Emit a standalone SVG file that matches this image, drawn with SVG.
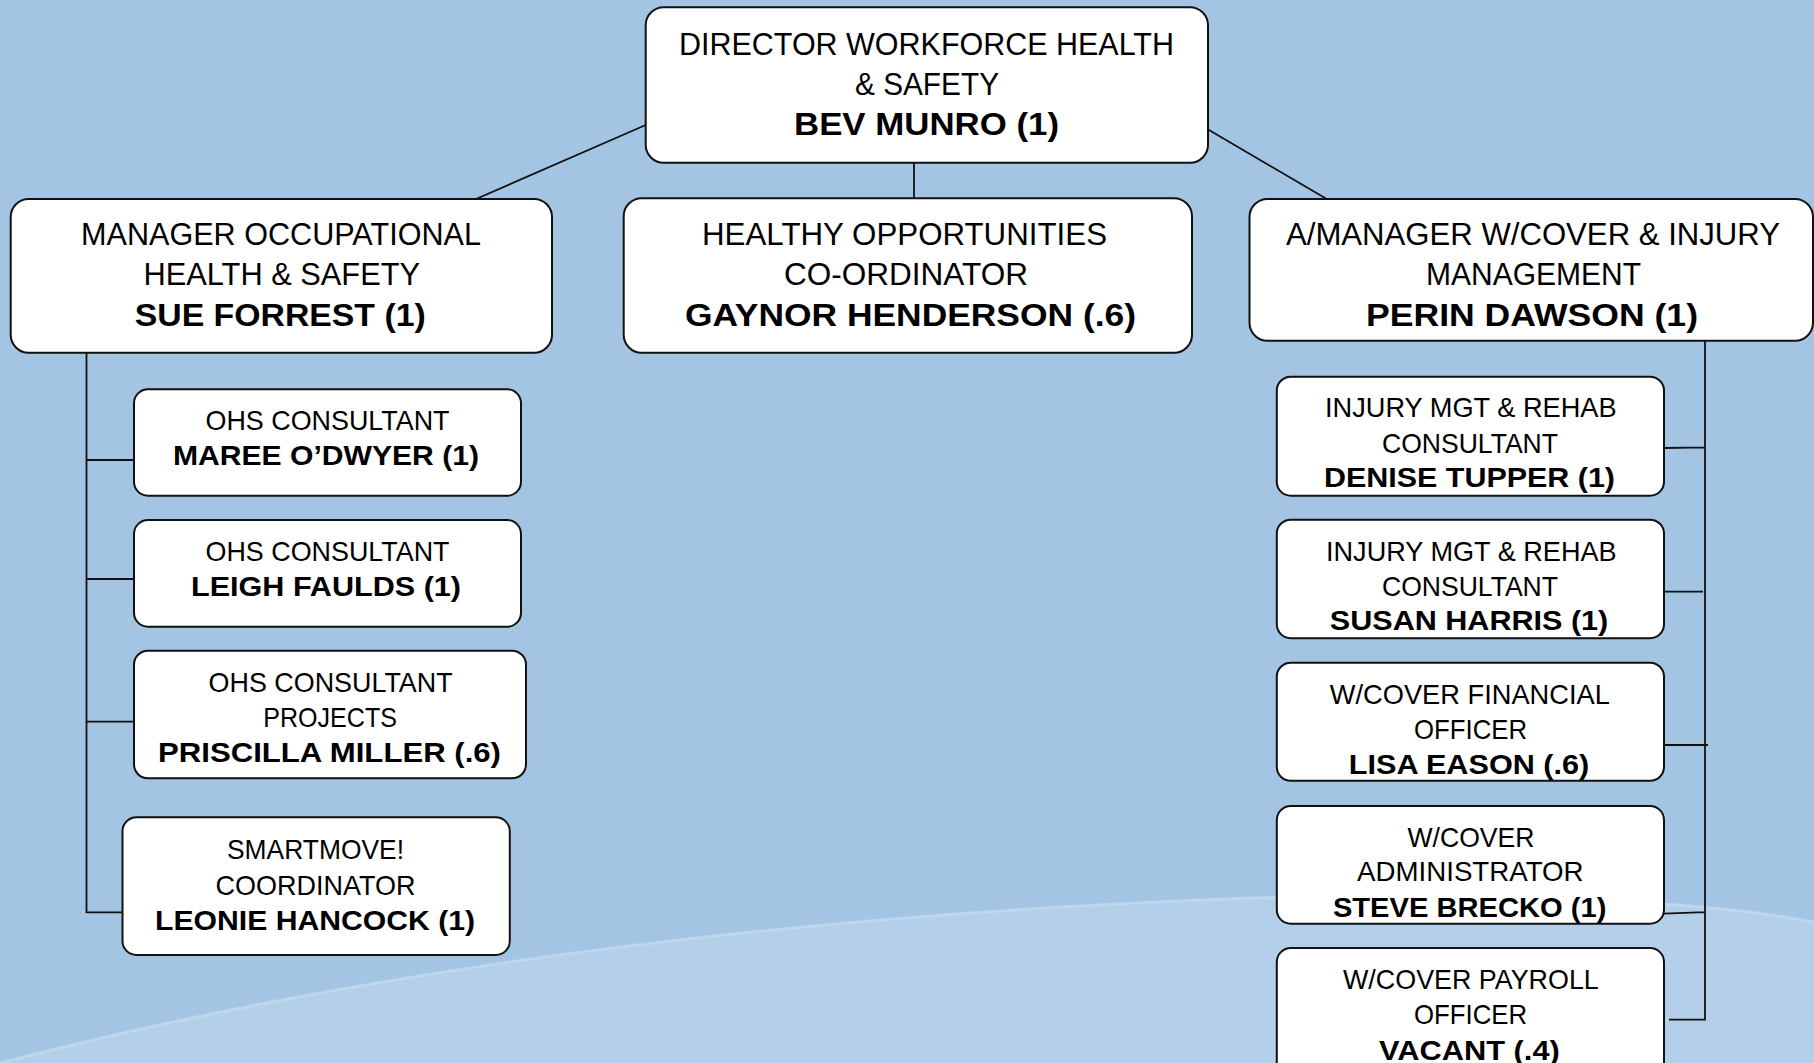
<svg xmlns="http://www.w3.org/2000/svg" width="1814" height="1063" viewBox="0 0 1814 1063">
<style>
.box{fill:#fff;stroke:#111;stroke-width:2}
.t{font-family:"Liberation Sans",Arial,sans-serif;font-size:31px;fill:#000}
.s{font-size:28px}
.b{font-weight:bold}
.conn{stroke:#111;stroke-width:1.8;fill:none}
</style>
<rect width="1814" height="1063" fill="#a3c5e3"/>
<path d="M0,1063 C300,985 700,918 1250,898 C1500,892 1700,900 1814,922 L1814,1063 Z" fill="#b4cfe9"/>
<path d="M0,1063 C300,985 700,918 1250,898 C1500,892 1700,900 1814,922" fill="none" stroke="#c4dbf0" stroke-width="3" opacity="0.7"/>
<g id="connectors">
<path class="conn" d="M645.7,125 L476,199"/>
<path class="conn" d="M914,162.7 L914,198.3"/>
<path class="conn" d="M1207.7,129.3 L1326.7,199"/>
<path class="conn" d="M86.5,352.7 L86.5,912.3 L122.5,912.3 M86.5,460 L134,460 M86.5,579 L138.5,579 M86.5,721.7 L138.5,721.7"/>
<path class="conn" d="M1705,340.7 L1705,1019.6 L1669,1019.6 M1664,448 L1705,447.3 M1664,591.6 L1703,591.6 M1662,745 L1708,745 M1664,913.6 L1705,912.2"/>
</g>
<g id="director">
<rect class="box" x="645.7" y="7.3" width="562.3" height="155.4" rx="18"/>
<text class="t" x="679" y="55" textLength="495" lengthAdjust="spacingAndGlyphs">DIRECTOR WORKFORCE HEALTH</text>
<text class="t" x="855" y="95" textLength="144" lengthAdjust="spacingAndGlyphs">&amp; SAFETY</text>
<text class="t b" x="794" y="135" textLength="265" lengthAdjust="spacingAndGlyphs">BEV MUNRO (1)</text>
</g>
<g id="manager-ohs">
<rect class="box" x="10.7" y="199" width="541.3" height="153.7" rx="18"/>
<text class="t" x="81" y="245" textLength="400" lengthAdjust="spacingAndGlyphs">MANAGER OCCUPATIONAL</text>
<text class="t" x="143.5" y="285" textLength="276.5" lengthAdjust="spacingAndGlyphs">HEALTH &amp; SAFETY</text>
<text class="t b" x="134.7" y="325.7" textLength="291" lengthAdjust="spacingAndGlyphs">SUE FORREST (1)</text>
</g>
<g id="healthy-opportunities">
<rect class="box" x="623.7" y="198.3" width="568.3" height="154.4" rx="18"/>
<text class="t" x="702" y="245" textLength="405" lengthAdjust="spacingAndGlyphs">HEALTHY OPPORTUNITIES</text>
<text class="t" x="784" y="285" textLength="244" lengthAdjust="spacingAndGlyphs">CO-ORDINATOR</text>
<text class="t b" x="685" y="325.7" textLength="451" lengthAdjust="spacingAndGlyphs">GAYNOR HENDERSON (.6)</text>
</g>
<g id="manager-wcover">
<rect class="box" x="1249.5" y="199" width="563.5" height="141.7" rx="18"/>
<text class="t" x="1286" y="245" textLength="494" lengthAdjust="spacingAndGlyphs">A/MANAGER W/COVER &amp; INJURY</text>
<text class="t" x="1426" y="285" textLength="215" lengthAdjust="spacingAndGlyphs">MANAGEMENT</text>
<text class="t b" x="1366" y="325.7" textLength="332" lengthAdjust="spacingAndGlyphs">PERIN DAWSON (1)</text>
</g>
<g id="maree">
<rect class="box" x="134" y="389.3" width="387" height="106.4" rx="14"/>
<text class="t s" x="205.5" y="430" textLength="244" lengthAdjust="spacingAndGlyphs">OHS CONSULTANT</text>
<text class="t s b" x="173" y="465" textLength="306" lengthAdjust="spacingAndGlyphs">MAREE O’DWYER (1)</text>
</g>
<g id="leigh">
<rect class="box" x="134" y="520" width="387" height="106.7" rx="14"/>
<text class="t s" x="205.5" y="560.7" textLength="244" lengthAdjust="spacingAndGlyphs">OHS CONSULTANT</text>
<text class="t s b" x="191" y="595.7" textLength="270" lengthAdjust="spacingAndGlyphs">LEIGH FAULDS (1)</text>
</g>
<g id="priscilla">
<rect class="box" x="134" y="650.7" width="392" height="127.6" rx="14"/>
<text class="t s" x="208.6" y="691.7" textLength="244" lengthAdjust="spacingAndGlyphs">OHS CONSULTANT</text>
<text class="t s" x="263.3" y="726.7" textLength="133.6" lengthAdjust="spacingAndGlyphs">PROJECTS</text>
<text class="t s b" x="158" y="761.7" textLength="343" lengthAdjust="spacingAndGlyphs">PRISCILLA MILLER (.6)</text>
</g>
<g id="leonie">
<rect class="box" x="122.5" y="817.3" width="387.3" height="137.7" rx="14"/>
<text class="t s" x="227" y="859" textLength="177" lengthAdjust="spacingAndGlyphs">SMARTMOVE!</text>
<text class="t s" x="215.5" y="895" textLength="200" lengthAdjust="spacingAndGlyphs">COORDINATOR</text>
<text class="t s b" x="155" y="930" textLength="320" lengthAdjust="spacingAndGlyphs">LEONIE HANCOCK (1)</text>
</g>
<g id="denise">
<rect class="box" x="1276.8" y="376.7" width="387.2" height="119" rx="14"/>
<text class="t s" x="1325" y="417.3" textLength="291.6" lengthAdjust="spacingAndGlyphs">INJURY MGT &amp; REHAB</text>
<text class="t s" x="1382" y="453.3" textLength="176" lengthAdjust="spacingAndGlyphs">CONSULTANT</text>
<text class="t s b" x="1324" y="487.3" textLength="291" lengthAdjust="spacingAndGlyphs">DENISE TUPPER (1)</text>
</g>
<g id="susan">
<rect class="box" x="1276.8" y="519.7" width="387.2" height="118.5" rx="14"/>
<text class="t s" x="1326" y="561" textLength="290.6" lengthAdjust="spacingAndGlyphs">INJURY MGT &amp; REHAB</text>
<text class="t s" x="1382" y="596.2" textLength="176" lengthAdjust="spacingAndGlyphs">CONSULTANT</text>
<text class="t s b" x="1329.8" y="630" textLength="278.5" lengthAdjust="spacingAndGlyphs">SUSAN HARRIS (1)</text>
</g>
<g id="lisa">
<rect class="box" x="1276.8" y="662.7" width="387.2" height="118.1" rx="14"/>
<text class="t s" x="1329.8" y="704" textLength="280" lengthAdjust="spacingAndGlyphs">W/COVER FINANCIAL</text>
<text class="t s" x="1414" y="738.8" textLength="113" lengthAdjust="spacingAndGlyphs">OFFICER</text>
<text class="t s b" x="1348.8" y="773.6" textLength="240.5" lengthAdjust="spacingAndGlyphs">LISA EASON (.6)</text>
</g>
<g id="steve">
<rect class="box" x="1276.8" y="806" width="387.2" height="117.7" rx="14"/>
<text class="t s" x="1407.5" y="846.5" textLength="127" lengthAdjust="spacingAndGlyphs">W/COVER</text>
<text class="t s" x="1357" y="881.3" textLength="226.6" lengthAdjust="spacingAndGlyphs">ADMINISTRATOR</text>
<text class="t s b" x="1332.9" y="916.5" textLength="273.5" lengthAdjust="spacingAndGlyphs">STEVE BRECKO (1)</text>
</g>
<g id="vacant">
<rect class="box" x="1276.8" y="948" width="387.2" height="140" rx="14"/>
<text class="t s" x="1343" y="989" textLength="255.8" lengthAdjust="spacingAndGlyphs">W/COVER PAYROLL</text>
<text class="t s" x="1414" y="1024.2" textLength="113" lengthAdjust="spacingAndGlyphs">OFFICER</text>
<text class="t s b" x="1379" y="1060" textLength="180.8" lengthAdjust="spacingAndGlyphs">VACANT (.4)</text>
</g>
</svg>
